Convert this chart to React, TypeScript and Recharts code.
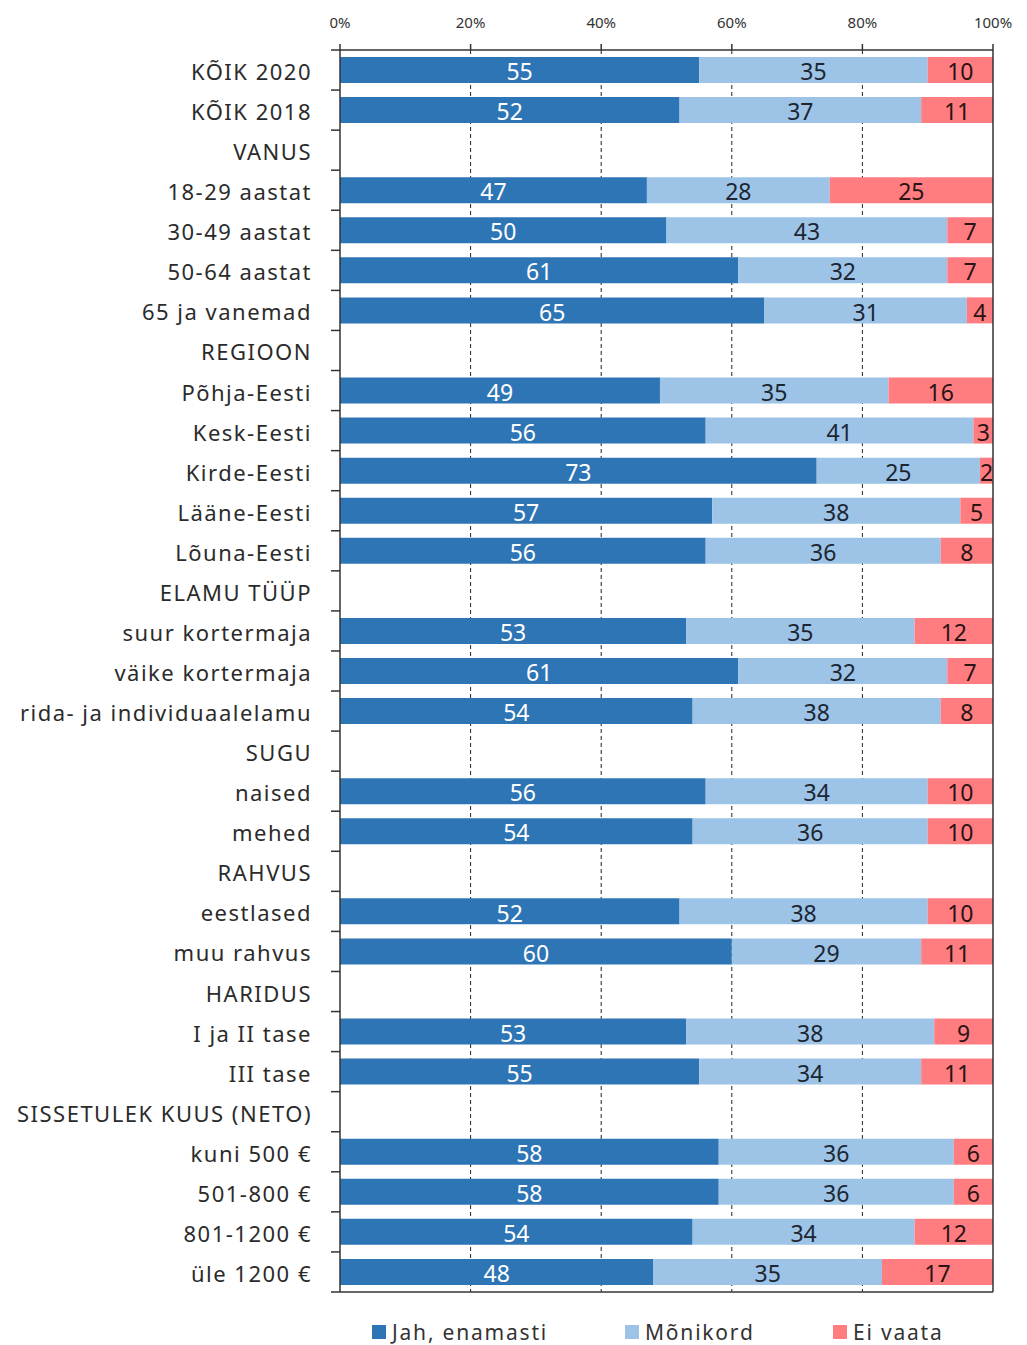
import {
  ComposedChart,
  Bar,
  XAxis,
  YAxis,
  CartesianGrid,
  Legend,
  LabelList,
  ReferenceLine,
} from "recharts";

const categories = [
  "KÕIK 2020", "KÕIK 2018", "VANUS", "18-29 aastat", "30-49 aastat", "50-64 aastat",
  "65 ja vanemad", "REGIOON", "Põhja-Eesti", "Kesk-Eesti", "Kirde-Eesti", "Lääne-Eesti",
  "Lõuna-Eesti", "ELAMU TÜÜP", "suur kortermaja", "väike kortermaja",
  "rida- ja individuaalelamu", "SUGU", "naised", "mehed", "RAHVUS", "eestlased",
  "muu rahvus", "HARIDUS", "I ja II tase", "III tase", "SISSETULEK KUUS (NETO)",
  "kuni 500 €", "501-800 €", "801-1200 €", "üle 1200 €",
];

// null = group header row (no bar)
const jahEnamasti = [
  55, 52, null, 47, 50, 61, 65, null, 49, 56, 73, 57, 56, null, 53, 61, 54, null,
  56, 54, null, 52, 60, null, 53, 55, null, 58, 58, 54, 48,
];
const monikord = [
  35, 37, null, 28, 43, 32, 31, null, 35, 41, 25, 38, 36, null, 35, 32, 38, null,
  34, 36, null, 38, 29, null, 38, 34, null, 36, 36, 34, 35,
];
const eiVaata = [
  10, 11, null, 25, 7, 7, 4, null, 16, 3, 2, 5, 8, null, 12, 7, 8, null,
  10, 10, null, 10, 11, null, 9, 11, null, 6, 6, 12, 17,
];

const xTicks = [0, 20, 40, 60, 80, 100];

const series = [
  { key: "jah", name: "Jah, enamasti", color: "#2E75B6", text: "#ffffff" },
  { key: "monikord", name: "Mõnikord", color: "#9DC3E6", text: "#1c2633" },
  { key: "ei", name: "Ei vaata", color: "#FF7C80", text: "#2a1414" },
];

const data = categories.map((name, i) => ({
  name,
  jah: jahEnamasti[i],
  monikord: monikord[i],
  ei: eiVaata[i],
}));

const FONT = "'Noto Sans', sans-serif";

function CategoryTick(props: any) {
  const { x, y, payload, index } = props;
  const half = payload?.offset ?? 20;
  return (
    <g>
      <line x1={x - 9} x2={x} y1={y - half} y2={y - half} stroke="#333" strokeWidth={1.5} />
      {index === categories.length - 1 && (
        <line x1={x - 9} x2={x} y1={y + half} y2={y + half} stroke="#333" strokeWidth={1.5} />
      )}
      <text
        x={x - 28}
        y={y + 1}
        textAnchor="end"
        dominantBaseline="central"
        fontFamily={FONT}
        fontSize={22}
        letterSpacing={1.5}
        fill="#2b2b2b"
      >
        {payload.value}
      </text>
    </g>
  );
}

function LegendContent() {
  const positions = [372, 625, 833];
  return (
    <div style={{ position: "relative", height: 40, fontFamily: FONT, fontSize: 21, letterSpacing: 1.8, color: "#333" }}>
      {series.map((s, i) => (
        <div
          key={s.key}
          style={{
            position: "absolute",
            left: positions[i],
            top: 16,
            display: "flex",
            alignItems: "center",
            whiteSpace: "nowrap",
          }}
        >
          <span style={{ width: 14, height: 14, background: s.color, marginRight: 6, display: "inline-block" }} />
          <span>{s.name}</span>
        </div>
      ))}
    </div>
  );
}

export default function App() {
  return (
    <div style={{ position: "absolute", left: 0, top: 0, background: "#fff" }}>
      <ComposedChart
        width={1027}
        height={1345}
        layout="vertical"
        data={data}
        margin={{ top: 20, right: 34, bottom: 3, left: 0 }}
        barCategoryGap={14}
      >
        <CartesianGrid
          xAxisId="top"
          horizontal={false}
          stroke="#222"
          strokeDasharray="4 3"
          verticalValues={[20, 40, 60, 80]}
        />
        <XAxis
          xAxisId="top"
          orientation="top"
          type="number"
          domain={[0, 100]}
          ticks={xTicks}
          height={30}
          tickSize={6}
          tickMargin={16}
          tickFormatter={(v: number) => `${v}%`}
          axisLine={{ stroke: "#333", strokeWidth: 1.5 }}
          tickLine={{ stroke: "#333", strokeWidth: 1.5 }}
          tick={{ fontFamily: FONT, fontSize: 15, fill: "#333" }}
        />
        <XAxis
          xAxisId="bottom"
          orientation="bottom"
          type="number"
          domain={[0, 100]}
          ticks={xTicks}
          height={10}
          tickSize={5}
          tickFormatter={() => ""}
          axisLine={{ stroke: "#333", strokeWidth: 1.5 }}
          tickLine={{ stroke: "#333", strokeWidth: 1.5 }}
        />
        <YAxis
          type="category"
          dataKey="name"
          width={340}
          interval={0}
          tickSize={0}
          tickMargin={0}
          tickLine={false}
          axisLine={{ stroke: "#333", strokeWidth: 1.5 }}
          tick={<CategoryTick />}
        />
        <ReferenceLine xAxisId="top" x={100} stroke="#333" strokeWidth={1.5} />
        {series.map((s) => (
          <Bar
            key={s.key}
            xAxisId="top"
            dataKey={s.key}
            name={s.name}
            stackId="a"
            fill={s.color}
            barSize={26}
            isAnimationActive={false}
          >
            <LabelList
              dataKey={s.key}
              position="center"
              fill={s.text}
              fontFamily={FONT}
              fontSize={23}
              dy={2}
            />
          </Bar>
        ))}
        <Legend
          verticalAlign="bottom"
          wrapperStyle={{ height: 40, width: 1027, left: 0 }}
          content={<LegendContent />}
        />
      </ComposedChart>
    </div>
  );
}
